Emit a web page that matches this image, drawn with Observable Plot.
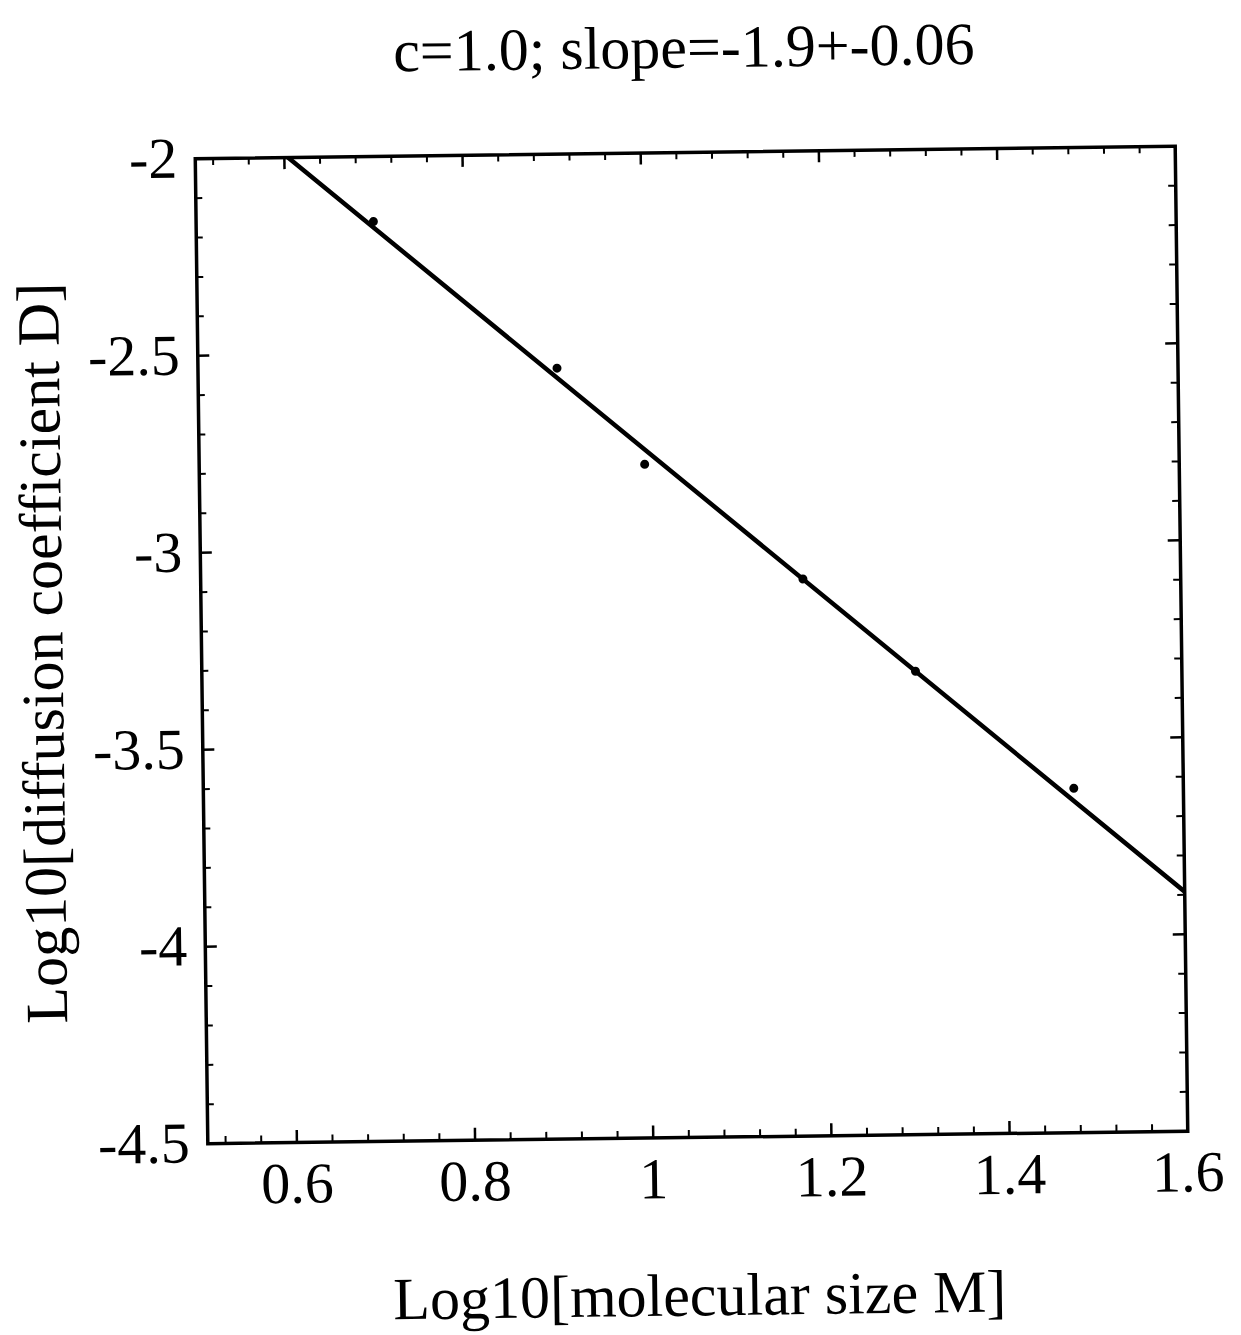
<!DOCTYPE html>
<html>
<head>
<meta charset="utf-8">
<script src="https://cdn.jsdelivr.net/npm/d3@7"></script>
<script src="https://cdn.jsdelivr.net/npm/@observablehq/plot@0.6"></script>
<style>
  body { margin: 0; background: #fff; }
  #chart svg { display: block; transform: rotate(-0.73deg); transform-origin: 691px 644px; }
</style>
</head>
<body>
<div id="chart"></div>
<script>
// Measured points: log10 of molecular size M (M = 5, 8, 10, 15, 20, 30)
const logM = [0.699, 0.903, 1.0, 1.176, 1.301, 1.477];
// log10 of the diffusion coefficient D at each size
const logD = [-2.165, -2.543, -2.79, -3.086, -3.324, -3.626];

// Straight-line fit parameters
const fitSlope = -1.9;
const fitIntercept = -0.852;

const titleText = "c=1.0; slope=-1.9+-0.06";
const xLabel = "Log10[molecular size M]";
const yLabel = "Log10[diffusion coefficient D]";

const xDomain = [0.5, 1.6];
const yDomain = [-4.5, -2];
const xMajor = [0.6, 0.8, 1, 1.2, 1.4, 1.6];
const yMajor = [-4.5, -4, -3.5, -3, -2.5, -2];

// Minor ticks: five subdivisions per major interval
const xMinor = d3.range(13, 41).map(i => i * 0.04).filter(v => v >= 0.5 && v <= 1.6 && !xMajor.some(m => Math.abs(m - v) < 1e-6));
const yMinor = d3.range(-45, -19).map(i => i / 10).filter(v => !yMajor.some(m => Math.abs(m - v) < 1e-6));

const points = logM.map((x, i) => ({x, y: logD[i]}));
const fitLine = xDomain.map(x => ({x, y: fitIntercept + fitSlope * x}));

const W = 1241, H = 1335;
const mL = 201, mR = 60, mT = 152, mB = 198;
const innerW = W - mL - mR, innerH = H - mT - mB;
const majorLen = 12, minorLen = 7;
const fmt = d => String(d);
const font = "'Liberation Serif', 'Times New Roman', serif";

// Inward frame ticks on all four sides
function frameTicks(values, len, sw) {
  return [
    Plot.tickX(values, {x: d => d, insetTop: innerH - len, strokeWidth: sw}),
    Plot.tickX(values, {x: d => d, insetBottom: innerH - len, strokeWidth: sw})
  ];
}
function frameTicksY(values, len, sw) {
  return [
    Plot.tickY(values, {y: d => d, insetRight: innerW - len, strokeWidth: sw}),
    Plot.tickY(values, {y: d => d, insetLeft: innerW - len, strokeWidth: sw})
  ];
}

const chart = Plot.plot({
  width: W,
  height: H,
  marginLeft: mL,
  marginRight: mR,
  marginTop: mT,
  marginBottom: mB,
  style: {fontFamily: font, color: "black", background: "white"},
  x: {domain: xDomain},
  y: {domain: yDomain},
  marks: [
    Plot.axisX(xMajor, {anchor: "bottom", tickSize: 0, tickPadding: 19, tickFormat: fmt, label: null, fontSize: 58}),
    Plot.axisY(yMajor, {anchor: "left", tickSize: 0, tickPadding: 18, tickFormat: fmt, label: null, fontSize: 58}),
    ...frameTicks(xMajor, majorLen, 2.5),
    ...frameTicks(xMinor, minorLen, 2),
    ...frameTicksY(yMajor, majorLen, 2.5),
    ...frameTicksY(yMinor, minorLen, 2),
    Plot.line(fitLine, {x: "x", y: "y", stroke: "black", strokeWidth: 4.5, clip: true}),
    Plot.dot(points, {x: "x", y: "y", r: 4.5, fill: "black", stroke: "none"}),
    Plot.frame({stroke: "black", strokeWidth: 3.5}),
    Plot.text([titleText], {text: d => d, frameAnchor: "top", dy: -85, lineAnchor: "bottom", fontSize: 60}),
    Plot.text([xLabel], {text: d => d, frameAnchor: "bottom", dy: 178, lineAnchor: "bottom", fontSize: 60}),
    Plot.text([yLabel], {text: d => d, frameAnchor: "left", dx: -139, rotate: -90, textAnchor: "middle", lineAnchor: "bottom", fontSize: 60})
  ]
});

document.getElementById("chart").append(chart);
</script>
</body>
</html>
